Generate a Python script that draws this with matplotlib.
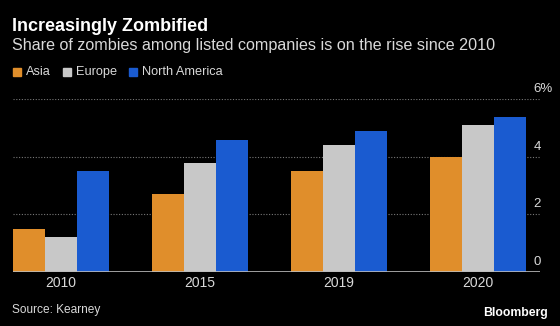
import matplotlib
matplotlib.use("Agg")
import matplotlib.pyplot as plt
import numpy as np

years = ["2010", "2015", "2019", "2020"]
asia = [1.5, 2.7, 3.5, 4.0]
europe = [1.2, 3.8, 4.4, 5.1]
north_america = [3.5, 4.6, 4.9, 5.4]
series_names = ["Asia", "Europe", "North America"]
colors = ["#E08E2B", "#C8C8C8", "#1A5BD0"]
yticks = [0, 2, 4, 6]

plt.rcParams["font.family"] = ["Liberation Sans", "DejaVu Sans"]
BG = "black"
TXT = "#D9D9D9"

fig = plt.figure(figsize=(5.6, 3.26), dpi=100, facecolor=BG)
W, H = fig.bbox.width, fig.bbox.height
ax = fig.add_axes([0.023, 0.1666, 0.941, 0.5288], facecolor=BG)

x = np.arange(len(years))
w = 0.23
for i, (vals, c) in enumerate(zip([asia, europe, north_america], colors)):
    ax.bar(x + (i - 1) * w, vals, width=w, color=c, zorder=2)

ax.set_xlim(-0.345, 3.445)
ax.set_ylim(0, 6)

# dotted grid lines, solid baseline
for t in yticks[1:]:
    ax.axhline(t, color="#777777", lw=0.8, ls=(0, (1, 1.5)), zorder=1)
ax.axhline(0, color="#BBBBBB", lw=1.2, zorder=3)

for s in ax.spines.values():
    s.set_visible(False)
ax.set_yticks([])
ax.set_xticks(x)
ax.set_xticklabels(years, color=TXT, fontsize=10)
ax.tick_params(axis="x", length=0, pad=3)

# y labels on the right, sitting above each grid line
for t in yticks:
    lab = f"{t}%" if t == 6 else str(t)
    ax.text(3.40, t + 0.14, lab, color=TXT, fontsize=9.5, ha="left", va="bottom")

fig.text(0.021, 1 - 26.5 / H, "Increasingly Zombified", color="white", fontsize=13,
         fontweight="bold", va="center")
fig.text(0.021, 1 - 45.5 / H, "Share of zombies among listed companies is on the rise since 2010",
         color=TXT, fontsize=11.6, va="center")

# legend: small squares followed by labels
lx = 13
for name, c in zip(series_names, colors):
    fig.patches.append(plt.Rectangle((lx / W, 1 - 76 / H), 8 / W, 8 / H, color=c,
                                     transform=fig.transFigure, figure=fig))
    t = fig.text((lx + 13) / W, 1 - 72.5 / H, name, color=TXT, fontsize=9.2, va="center")
    fig.canvas.draw()
    lx = t.get_window_extent().x1 + 12

fig.text(0.021, 1 - 310 / H, "Source: Kearney", color=TXT, fontsize=8.6, va="center")
fig.text(548 / W, 1 - 313 / H, "Bloomberg", color="white", fontsize=8.8, fontweight="bold",
         ha="right", va="center")

fig.savefig("out.png", dpi=100, facecolor=BG)
